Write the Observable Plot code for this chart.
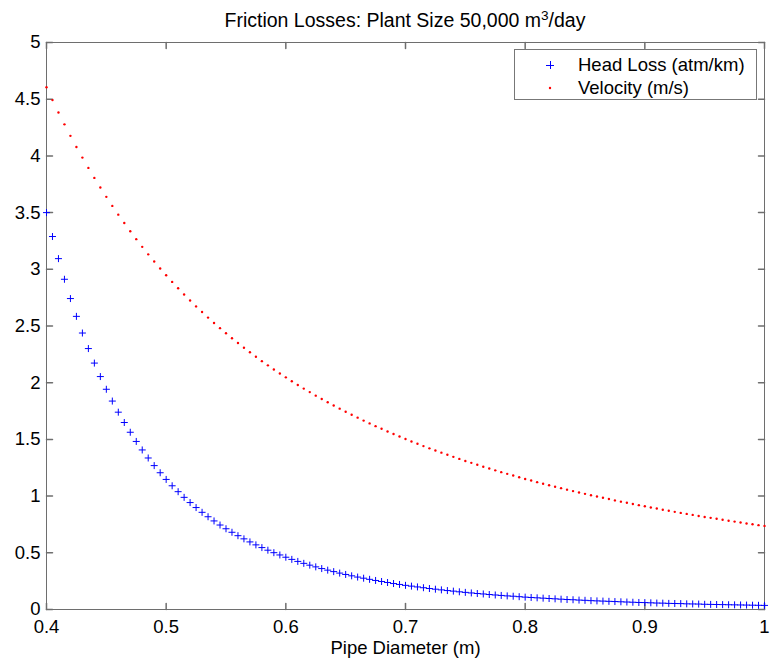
<!DOCTYPE html>
<html>
<head>
<meta charset="utf-8">
<script src="https://cdn.jsdelivr.net/npm/d3@7"></script>
<script src="https://cdn.jsdelivr.net/npm/@observablehq/plot@0.6"></script>
<style>
  html, body { margin: 0; padding: 0; background: #fff; }
  #wrap { position: relative; width: 770px; height: 664px; font-family: "Liberation Sans", Arial, Helvetica, sans-serif; color: #000; }
  #title { position: absolute; left: 46px; width: 718px; top: 11px; text-align: center; font-size: 19.5px; line-height: 1; white-space: nowrap; }
  #title sup { font-size: 0.7em; vertical-align: baseline; position: relative; top: -0.55em; }
  #legend { position: absolute; left: 514px; top: 49px; width: 243px; height: 51px; box-sizing: border-box; border: 1px solid #777; background: #fff; font-size: 18.5px; }
  .entry { position: absolute; left: 0; height: 20px; line-height: 20px; white-space: nowrap; }
  .entry svg { position: absolute; left: 30px; top: 5px; }
  .entry span { position: absolute; left: 63px; top: 0; }
</style>
</head>
<body>
<div id="wrap">
  <div id="chart"></div>
  <div id="title">Friction Losses: Plant Size 50,000 m<sup>3</sup>/day</div>
  <div id="legend">
    <div class="entry" style="top:5px">
      <svg width="10" height="10"><path d="M1,5.5H9M5.5,1V9" stroke="#0000ff" stroke-width="1" fill="none"/></svg>
      <span>Head Loss (atm/km)</span>
    </div>
    <div class="entry" style="top:28px">
      <svg width="10" height="10"><circle cx="5" cy="5" r="1.2" fill="#ff0000"/></svg>
      <span>Velocity (m/s)</span>
    </div>
  </div>
</div>
<script>
// ---- Data ----
const diameter = [
  0.400,0.405,0.410,0.415,0.420,0.425,0.430,0.435,0.440,0.445,
  0.450,0.455,0.460,0.465,0.470,0.475,0.480,0.485,0.490,0.495,
  0.500,0.505,0.510,0.515,0.520,0.525,0.530,0.535,0.540,0.545,
  0.550,0.555,0.560,0.565,0.570,0.575,0.580,0.585,0.590,0.595,
  0.600,0.605,0.610,0.615,0.620,0.625,0.630,0.635,0.640,0.645,
  0.650,0.655,0.660,0.665,0.670,0.675,0.680,0.685,0.690,0.695,
  0.700,0.705,0.710,0.715,0.720,0.725,0.730,0.735,0.740,0.745,
  0.750,0.755,0.760,0.765,0.770,0.775,0.780,0.785,0.790,0.795,
  0.800,0.805,0.810,0.815,0.820,0.825,0.830,0.835,0.840,0.845,
  0.850,0.855,0.860,0.865,0.870,0.875,0.880,0.885,0.890,0.895,
  0.900,0.905,0.910,0.915,0.920,0.925,0.930,0.935,0.940,0.945,
  0.950,0.955,0.960,0.965,0.970,0.975,0.980,0.985,0.990,0.995,
  1.000
];
const headLoss = [
  3.500,3.289,3.094,2.912,2.742,2.585,2.438,2.301,2.173,2.054,
  1.942,1.838,1.740,1.649,1.563,1.482,1.407,1.336,1.269,1.206,
  1.147,1.091,1.039,0.989,0.943,0.899,0.857,0.818,0.781,0.745,
  0.712,0.681,0.651,0.623,0.596,0.570,0.546,0.523,0.501,0.481,
  0.461,0.442,0.424,0.407,0.391,0.376,0.361,0.347,0.334,0.321,
  0.309,0.297,0.286,0.276,0.266,0.256,0.247,0.238,0.229,0.221,
  0.213,0.206,0.199,0.192,0.185,0.179,0.173,0.167,0.162,0.156,
  0.151,0.146,0.141,0.137,0.132,0.128,0.124,0.120,0.117,0.113,
  0.109,0.106,0.103,0.100,0.097,0.094,0.091,0.088,0.086,0.083,
  0.081,0.078,0.076,0.074,0.072,0.070,0.068,0.066,0.064,0.062,
  0.061,0.059,0.057,0.056,0.054,0.053,0.052,0.050,0.049,0.048,
  0.046,0.045,0.044,0.043,0.042,0.041,0.040,0.039,0.038,0.037,
  0.036
];
const velocity = [
  4.605,4.492,4.383,4.278,4.177,4.079,3.985,3.894,3.806,3.721,
  3.639,3.559,3.482,3.408,3.336,3.266,3.198,3.132,3.069,3.007,
  2.947,2.889,2.833,2.778,2.725,2.673,2.623,2.574,2.527,2.481,
  2.436,2.392,2.350,2.308,2.268,2.229,2.190,2.153,2.117,2.081,
  2.047,2.013,1.980,1.948,1.917,1.886,1.856,1.827,1.799,1.771,
  1.744,1.717,1.692,1.666,1.641,1.617,1.594,1.570,1.548,1.525,
  1.504,1.482,1.462,1.441,1.421,1.402,1.383,1.364,1.346,1.328,
  1.310,1.293,1.276,1.259,1.243,1.227,1.211,1.196,1.181,1.166,
  1.151,1.137,1.123,1.109,1.096,1.083,1.070,1.057,1.044,1.032,
  1.020,1.008,0.996,0.985,0.974,0.962,0.951,0.941,0.930,0.920,
  0.910,0.900,0.890,0.880,0.871,0.861,0.852,0.843,0.834,0.825,
  0.816,0.808,0.800,0.791,0.783,0.775,0.767,0.759,0.752,0.744,
  0.737
];
const xTicks = [0.4, 0.5, 0.6, 0.7, 0.8, 0.9, 1];
const xTickLabels = ["0.4", "0.5", "0.6", "0.7", "0.8", "0.9", "1"];
const yTicks = [0, 0.5, 1, 1.5, 2, 2.5, 3, 3.5, 4, 4.5, 5];
const yTickLabels = ["0", "0.5", "1", "1.5", "2", "2.5", "3", "3.5", "4", "4.5", "5"];
const xLabel = "Pipe Diameter (m)";

// ---- Build table ----
const rows = diameter.map((d, i) => ({d, head: headLoss[i], vel: velocity[i]}));

// thin MATLAB-style "+" marker
const plusSymbol = {
  draw(ctx, size) {
    const r = Math.sqrt(size / Math.PI);
    ctx.moveTo(-r, 0); ctx.lineTo(r, 0);
    ctx.moveTo(0, -r); ctx.lineTo(0, r);
  }
};
// plain line shape for inward tick marks
const tickLine = { draw(ctx, l) { ctx.moveTo(0, 0); ctx.lineTo(0, -l); } };

const axisColor = "#6e6e6e";
const tickLen = 6;

const chart = Plot.plot({
  width: 770,
  height: 664,
  marginLeft: 46,
  marginRight: 6,
  marginTop: 42,
  marginBottom: 55,
  style: {fontFamily: '"Liberation Sans", Arial, Helvetica, sans-serif', fontSize: "18.5px", color: "#000", background: "#fff", overflow: "visible"},
  x: {domain: [0.4, 1], label: null},
  y: {domain: [0, 5], label: null},
  marks: [
    Plot.frame({stroke: axisColor}),
    // inward ticks on all four sides
    Plot.vector(xTicks, {x: d => d, frameAnchor: "bottom", rotate: 0, length: tickLen, anchor: "start", shape: tickLine, stroke: axisColor}),
    Plot.vector(xTicks, {x: d => d, frameAnchor: "top", rotate: 180, length: tickLen, anchor: "start", shape: tickLine, stroke: axisColor}),
    Plot.vector(yTicks, {y: d => d, frameAnchor: "left", rotate: 90, length: tickLen, anchor: "start", shape: tickLine, stroke: axisColor}),
    Plot.vector(yTicks, {y: d => d, frameAnchor: "right", rotate: -90, length: tickLen, anchor: "start", shape: tickLine, stroke: axisColor}),
    // tick labels
    Plot.axisX(xTicks, {anchor: "bottom", tickSize: 0, tickPadding: 10, fill: "#000",
      tickFormat: d => xTickLabels[xTicks.indexOf(d)], label: null}),
    Plot.axisY(yTicks, {anchor: "left", tickSize: 0, tickPadding: 6, fill: "#000",
      tickFormat: d => yTickLabels[yTicks.indexOf(d)], label: null}),
    Plot.dot(rows, {x: "d", y: "vel", r: 1.2, fill: "#ff0000", stroke: "none"}),
    Plot.dot(rows, {x: "d", y: "head", symbol: plusSymbol, r: 3.5, stroke: "#0000ff", fill: "none", strokeWidth: 1}),
    Plot.text([xLabel], {frameAnchor: "bottom", dy: 39, lineAnchor: "middle", fill: "#000"})
  ]
});
document.getElementById("chart").appendChild(chart);
</script>
</body>
</html>
